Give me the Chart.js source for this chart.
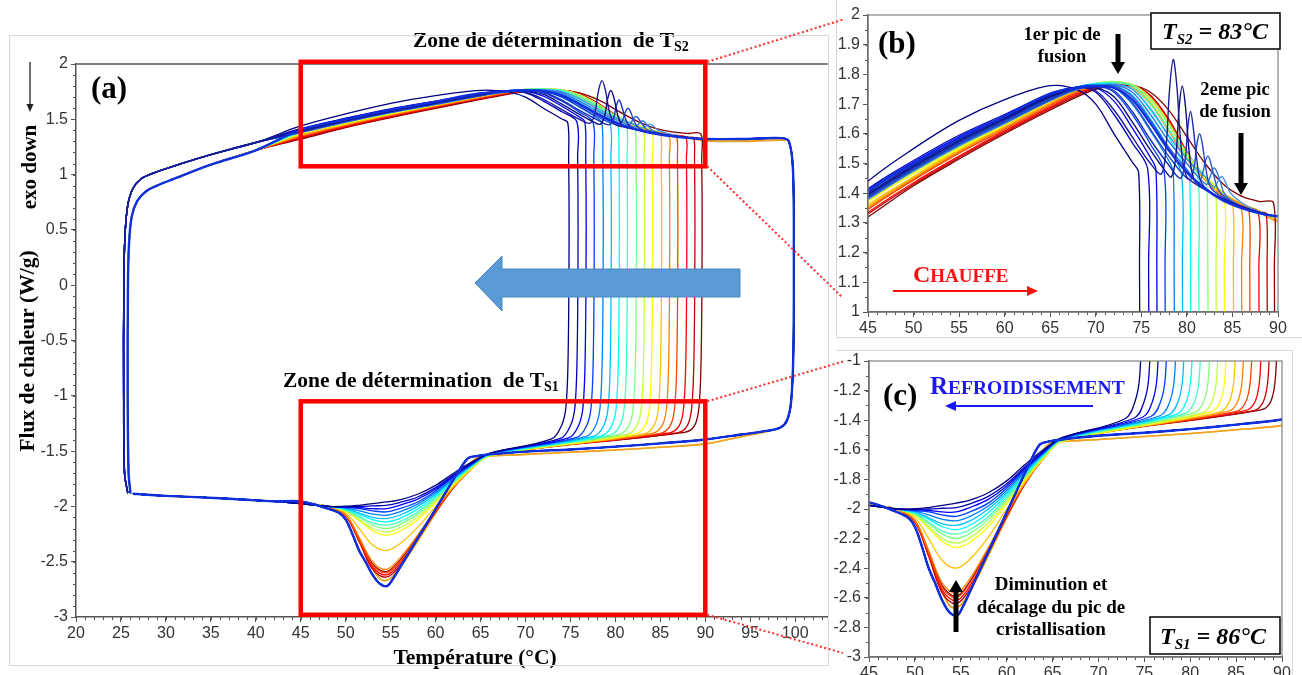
<!DOCTYPE html>
<html>
<head>
<meta charset="utf-8">
<script src="https://cdn.jsdelivr.net/npm/chart.js@4.4.1/dist/chart.umd.min.js"></script>
<style>
  body { margin: 0; background: #fff; width: 1302px; height: 675px; overflow: hidden; position: relative; }
  canvas { position: absolute; }
  #ca { left: 0; top: 0; }
  #cb { left: 830px; top: 0; }
  #cc { left: 830px; top: 345px; }
  #over { left: 0; top: 0; pointer-events: none; }
</style>
</head>
<body>
<canvas id="ca" width="830" height="675"></canvas>
<canvas id="cb" width="472" height="345"></canvas>
<canvas id="cc" width="472" height="330"></canvas>
<canvas id="over" width="1302" height="675"></canvas>
<script>
// ---- data (temperature in °C, heat flow in W/g) ----

// end of every cooling run, common to all loops
var coolTailT = [42, 38, 34, 30, 27.5, 26.4];
var coolTailF = [-1.955, -1.935, -1.918, -1.905, -1.893, -1.885];

// start of heating (vertical rise at ~25 °C), upper and lower bundle
var riseT_hi = [25.75, 25.4, 25.3, 25.32, 25.45, 25.75, 26.3, 27.2, 28.5, 31, 35, 40];
var riseF_hi = [-1.875, -1.7, -1.0, 0.0, 0.45, 0.72, 0.87, 0.96, 1.01, 1.08, 1.18, 1.29];
var riseT_lo = [26.05, 25.85, 25.75, 25.78, 25.9, 26.2, 26.8, 27.8, 29, 31, 35, 40];
var riseF_lo = [-1.875, -1.7, -1.0, 0.0, 0.38, 0.62, 0.76, 0.85, 0.9, 0.965, 1.09, 1.22];

// partial cycles : heating stopped at stopTemp then cooled
var stopTemp = [74.7, 75.7, 76.6, 77.5, 78.5, 79.4, 80.3, 81.2, 82.2, 83.1, 84.0, 85.0, 85.9, 86.8, 87.8, 88.7, 89.5];
var stopFlux = [1.47, 1.48, 1.48, 1.475, 1.47, 1.465, 1.46, 1.455, 1.45, 1.42, 1.395, 1.37, 1.357, 1.345, 1.337, 1.332, 1.368];
var coolStart = [-1.39, -1.385, -1.38, -1.375, -1.37, -1.365, -1.36, -1.355, -1.35, -1.35, -1.345, -1.345, -1.34, -1.34, -1.335, -1.335, -1.33];
var riseGroup = [1, 1, 1, 1, 1, 1, 0, 0, 0, 0, 0, 0, 0, 0, 0, 0, 0];

var heatGrid = [45, 50, 55, 60, 65, 68, 70, 72, 74, 76, 78, 80, 82, 84, 86, 88];
var partialHeat = [
  [1.44, 1.55, 1.645, 1.715, 1.762, 1.748, 1.70, 1.60, 1.505],
  [1.415, 1.51, 1.595, 1.665, 1.735, 1.757, 1.74, 1.665, 1.57],
  [1.41, 1.505, 1.59, 1.66, 1.73, 1.757, 1.755, 1.71, 1.62, 1.52],
  [1.405, 1.50, 1.585, 1.655, 1.728, 1.758, 1.762, 1.74, 1.665, 1.565],
  [1.40, 1.495, 1.58, 1.65, 1.725, 1.758, 1.765, 1.755, 1.70, 1.61, 1.51],
  [1.395, 1.49, 1.575, 1.648, 1.722, 1.758, 1.767, 1.762, 1.73, 1.65, 1.55],
  [1.39, 1.485, 1.57, 1.645, 1.72, 1.757, 1.768, 1.768, 1.75, 1.68, 1.59, 1.475],
  [1.385, 1.48, 1.565, 1.64, 1.717, 1.756, 1.77, 1.772, 1.76, 1.70, 1.615, 1.52],
  [1.38, 1.475, 1.56, 1.637, 1.715, 1.755, 1.77, 1.775, 1.765, 1.715, 1.63, 1.535, 1.458],
  [1.375, 1.47, 1.555, 1.633, 1.712, 1.755, 1.77, 1.776, 1.765, 1.72, 1.635, 1.535, 1.455],
  [1.37, 1.465, 1.55, 1.63, 1.71, 1.752, 1.77, 1.776, 1.765, 1.72, 1.635, 1.53, 1.45],
  [1.36, 1.455, 1.545, 1.625, 1.705, 1.75, 1.768, 1.775, 1.765, 1.72, 1.635, 1.525, 1.445, 1.395],
  [1.35, 1.45, 1.54, 1.62, 1.70, 1.745, 1.765, 1.772, 1.765, 1.72, 1.64, 1.53, 1.445, 1.39],
  [1.345, 1.445, 1.535, 1.615, 1.695, 1.74, 1.76, 1.77, 1.765, 1.722, 1.64, 1.53, 1.445, 1.39, 1.358],
  [1.335, 1.435, 1.525, 1.61, 1.69, 1.735, 1.758, 1.768, 1.765, 1.725, 1.645, 1.535, 1.445, 1.39, 1.355],
  [1.33, 1.43, 1.52, 1.605, 1.685, 1.73, 1.755, 1.765, 1.765, 1.73, 1.65, 1.54, 1.45, 1.39, 1.355, 1.335],
  [1.32, 1.425, 1.515, 1.60, 1.68, 1.725, 1.75, 1.76, 1.762, 1.74, 1.68, 1.59, 1.50, 1.43, 1.39, 1.372]
];

// shape of the drop when heating is stopped (offsets from stopTemp)
var dropDT = [0.1, 0.15, 0.05, -0.2, -0.7];
var dropF = [1.15, 0.5, -0.6, -1.1, -1.27];

// crystallisation peak of the partial cycles
var dipGrid = [66, 64, 62, 60, 58, 56, 54.5, 53, 51.5, 50, 48, 45];
var partialDip = [
  [-1.52, -1.60, -1.70, -1.81, -1.89, -1.94, -1.96, -1.975, -1.99, -2.0, -2.0, -1.975],
  [-1.52, -1.61, -1.715, -1.83, -1.915, -1.965, -1.99, -1.995, -2.0, -2.0, -2.0, -1.975],
  [-1.52, -1.615, -1.725, -1.845, -1.935, -1.99, -2.02, -2.02, -2.01, -2.005, -2.0, -1.975],
  [-1.525, -1.62, -1.735, -1.86, -1.96, -2.02, -2.05, -2.04, -2.02, -2.01, -2.0, -1.975],
  [-1.525, -1.625, -1.745, -1.875, -1.98, -2.05, -2.08, -2.07, -2.04, -2.015, -2.0, -1.975],
  [-1.53, -1.63, -1.755, -1.89, -2.0, -2.08, -2.11, -2.10, -2.06, -2.02, -2.0, -1.975],
  [-1.53, -1.635, -1.765, -1.905, -2.025, -2.11, -2.14, -2.12, -2.07, -2.025, -2.0, -1.975],
  [-1.535, -1.64, -1.775, -1.92, -2.05, -2.14, -2.17, -2.15, -2.09, -2.03, -2.0, -1.975],
  [-1.54, -1.645, -1.785, -1.935, -2.07, -2.165, -2.20, -2.17, -2.10, -2.035, -2.0, -1.975],
  [-1.54, -1.65, -1.795, -1.95, -2.095, -2.195, -2.23, -2.20, -2.12, -2.04, -2.0, -1.975],
  [-1.545, -1.655, -1.805, -1.965, -2.12, -2.225, -2.26, -2.22, -2.13, -2.045, -2.0, -1.975],
  [-1.545, -1.66, -1.82, -2.0, -2.19, -2.34, -2.40, -2.35, -2.20, -2.06, -2.0, -1.975],
  [-1.54, -1.66, -1.82, -2.03, -2.26, -2.47, -2.57, -2.50, -2.28, -2.08, -2.0, -1.975],
  [-1.54, -1.66, -1.825, -2.04, -2.28, -2.50, -2.60, -2.53, -2.30, -2.08, -2.0, -1.975],
  [-1.535, -1.66, -1.83, -2.045, -2.29, -2.52, -2.62, -2.55, -2.31, -2.085, -2.0, -1.975],
  [-1.535, -1.655, -1.83, -2.05, -2.30, -2.54, -2.64, -2.57, -2.32, -2.09, -2.0, -1.975],
  [-1.53, -1.655, -1.825, -2.04, -2.27, -2.49, -2.59, -2.52, -2.29, -2.08, -2.0, -1.975]
];

// full cycles up to 100 °C (the dark blue ones carry the 2nd melting peak)
var fullColor = ['#1030dd', '#1c1c96', '#0c0c80', '#1a2cb4', '#2244c8', '#2a5cda', '#347ae2', '#4898ea', '#f0a028', '#f8c818'];
var fullGroup = [0, 1, 1, 1, 1, 1, 1, 1, 0, 0];
var fullHeatT = [
  [45, 50, 55, 60, 65, 68, 70, 72, 74, 76, 78, 80, 82, 84, 86, 88, 90, 94, 98.5],
  [45, 50, 55, 60, 65, 68, 70, 72, 74, 76, 77.2, 77.7, 78.1, 78.5, 78.9, 79.3, 79.9, 81, 83, 85, 88, 90, 94, 98.5],
  [45, 50, 55, 60, 65, 68, 70, 72, 74, 76, 77.5, 78.3, 78.8, 79.15, 79.5, 79.85, 80.25, 80.8, 82, 84, 86, 88, 90, 94, 98.5],
  [45, 50, 55, 60, 65, 68, 70, 72, 74, 76, 78, 79.3, 79.8, 80.1, 80.4, 80.7, 81.1, 81.6, 83, 85, 88, 90, 94, 98.5],
  [45, 50, 55, 60, 65, 68, 70, 72, 74, 76, 78, 80.3, 80.8, 81.1, 81.4, 81.7, 82.1, 82.6, 84, 86, 88, 90, 94, 98.5],
  [45, 50, 55, 60, 65, 68, 70, 72, 74, 76, 78, 80, 81.3, 81.75, 82.05, 82.3, 82.55, 82.95, 83.5, 85, 88, 90, 94, 98.5],
  [45, 50, 55, 60, 65, 68, 70, 72, 74, 76, 78, 80, 82.1, 82.55, 82.8, 83.0, 83.25, 83.65, 84.2, 86, 88, 90, 94, 98.5],
  [45, 50, 55, 60, 65, 68, 70, 72, 74, 76, 78, 80, 82, 83.0, 83.4, 83.8, 84.2, 84.8, 87, 90, 94, 98.5],
  [45, 50, 55, 60, 65, 68, 70, 72, 74, 76, 78, 80, 82, 84, 86, 88, 90, 94, 98.5],
  [45, 50, 55, 60, 65, 68, 70, 72, 74, 76, 78, 80, 82, 84, 86, 88, 90, 94, 98.5]
];
var fullHeatF = [
  [1.405, 1.50, 1.585, 1.66, 1.735, 1.755, 1.76, 1.755, 1.715, 1.635, 1.545, 1.47, 1.415, 1.375, 1.35, 1.332, 1.322, 1.322, 1.33],
  [1.40, 1.495, 1.58, 1.655, 1.73, 1.755, 1.745, 1.68, 1.59, 1.50, 1.465, 1.55, 1.75, 1.85, 1.76, 1.58, 1.46, 1.43, 1.395, 1.365, 1.335, 1.322, 1.32, 1.33],
  [1.395, 1.49, 1.575, 1.65, 1.725, 1.755, 1.755, 1.725, 1.64, 1.545, 1.48, 1.455, 1.53, 1.69, 1.76, 1.69, 1.54, 1.445, 1.415, 1.38, 1.355, 1.335, 1.322, 1.32, 1.33],
  [1.39, 1.485, 1.57, 1.645, 1.72, 1.755, 1.76, 1.745, 1.675, 1.58, 1.495, 1.45, 1.51, 1.62, 1.675, 1.62, 1.51, 1.435, 1.395, 1.365, 1.335, 1.322, 1.32, 1.33],
  [1.385, 1.48, 1.565, 1.64, 1.715, 1.752, 1.76, 1.755, 1.705, 1.615, 1.525, 1.445, 1.49, 1.565, 1.60, 1.565, 1.48, 1.42, 1.385, 1.355, 1.335, 1.322, 1.32, 1.33],
  [1.385, 1.48, 1.565, 1.64, 1.715, 1.752, 1.762, 1.76, 1.725, 1.645, 1.555, 1.48, 1.435, 1.47, 1.51, 1.525, 1.51, 1.46, 1.41, 1.37, 1.335, 1.322, 1.32, 1.33],
  [1.38, 1.475, 1.56, 1.635, 1.712, 1.75, 1.762, 1.765, 1.74, 1.665, 1.575, 1.50, 1.43, 1.455, 1.478, 1.485, 1.475, 1.44, 1.395, 1.355, 1.335, 1.322, 1.32, 1.33],
  [1.38, 1.475, 1.56, 1.635, 1.712, 1.75, 1.762, 1.767, 1.75, 1.685, 1.595, 1.515, 1.455, 1.42, 1.44, 1.456, 1.44, 1.40, 1.35, 1.322, 1.32, 1.33],
  [1.345, 1.445, 1.54, 1.625, 1.70, 1.74, 1.755, 1.765, 1.755, 1.70, 1.61, 1.515, 1.445, 1.395, 1.36, 1.335, 1.305, 1.30, 1.31],
  [1.355, 1.455, 1.55, 1.63, 1.705, 1.745, 1.76, 1.77, 1.76, 1.705, 1.615, 1.52, 1.45, 1.40, 1.365, 1.34, 1.31, 1.305, 1.315]
];
var fullDropT = [99.3, 99.75, 99.85, 99.8, 99.55, 99.1, 98.4];
var fullDropF = [1.30, 1.05, 0.3, -0.6, -1.05, -1.22, -1.285];
var blueCoolT = [97, 94, 90, 85, 80, 75, 70, 66, 64.5, 63.6, 62.5, 61, 59.5, 58, 56.5, 55.3, 54.6, 53.8, 53, 52.2, 51.5, 50.7, 50, 49.3, 48, 45];
var blueCoolF = [-1.315, -1.35, -1.395, -1.43, -1.46, -1.485, -1.505, -1.53, -1.545, -1.565, -1.69, -1.89, -2.09, -2.29, -2.49, -2.65, -2.72, -2.70, -2.62, -2.50, -2.40, -2.24, -2.12, -2.06, -2.02, -1.955];
var orangeCoolT = [97, 94, 90, 85, 80, 75, 70, 66, 64.6, 63.2, 61.5, 60, 58.5, 57, 55.8, 54.8, 53.9, 53, 52.2, 51.4, 50.6, 49.8, 48, 45];
var orangeCoolF = [-1.32, -1.37, -1.435, -1.465, -1.49, -1.51, -1.53, -1.545, -1.56, -1.68, -1.88, -2.06, -2.25, -2.44, -2.58, -2.66, -2.66, -2.56, -2.42, -2.28, -2.15, -2.07, -2.015, -1.965];

// ---- build datasets ----
function xy(ts, fs) { return ts.map(function (t, i) { return { x: t, y: fs[i] }; }); }
function rise(hi) { return hi ? xy(riseT_hi, riseF_hi) : xy(riseT_lo, riseF_lo); }
function jet(t) {
  function c(v) { return Math.round(255 * Math.max(0, Math.min(1, v))); }
  return 'rgb(' + c(Math.min(4 * t - 1.5, -4 * t + 4.5)) + ',' + c(Math.min(4 * t - 0.5, -4 * t + 3.5)) + ',' + c(Math.min(4 * t + 0.5, -4 * t + 2.5)) + ')';
}
function partialLoop(k) {
  var d = rise(riseGroup[k]);
  partialHeat[k].forEach(function (f, i) { d.push({ x: heatGrid[i], y: f }); });
  d.push({ x: stopTemp[k], y: stopFlux[k] });
  dropDT.forEach(function (dt, i) { d.push({ x: stopTemp[k] + dt, y: dropF[i] }); });
  d.push({ x: stopTemp[k] - 1.8, y: coolStart[k] });
  d = d.concat(xy(dipGrid, partialDip[k]), xy(coolTailT, coolTailF));
  return d;
}
function fullLoop(j) {
  var orange = j >= 8;
  return rise(fullGroup[j]).concat(
    xy(fullHeatT[j], fullHeatF[j]),
    xy(fullDropT, fullDropF),
    orange ? xy(orangeCoolT, orangeCoolF) : xy(blueCoolT, blueCoolF),
    xy(coolTailT, coolTailF));
}
function makeDatasets() {
  var ds = [];
  for (var j = 0; j < 8; j++) ds.push({ data: fullLoop(j), borderColor: fullColor[j], borderWidth: j == 0 ? 2.4 : 1.4 });
  for (var k = 0; k < stopTemp.length; k++) ds.push({ data: partialLoop(k), borderColor: jet(k / (stopTemp.length - 1)), borderWidth: 1.3 });
  for (var j2 = 8; j2 < 10; j2++) ds.push({ data: fullLoop(j2), borderColor: fullColor[j2], borderWidth: 1.6 });
  ds.forEach(function (d) { d.showLine = true; d.pointRadius = 0; d.fill = false; });
  return ds;
}

// ---- helpers ----
var SERIF = '"Liberation Serif", "Times New Roman", serif';
var SANS = '"Liberation Sans", Arial, sans-serif';
function fmt(v) { return String(Math.round(v * 100) / 100); }

function arrow(ctx, x1, y1, x2, y2, lw, hl, hw, color) {
  var a = Math.atan2(y2 - y1, x2 - x1);
  var bx = x2 - hl * Math.cos(a), by = y2 - hl * Math.sin(a);
  ctx.save();
  ctx.strokeStyle = color; ctx.fillStyle = color; ctx.lineWidth = lw; ctx.setLineDash([]);
  ctx.beginPath(); ctx.moveTo(x1, y1); ctx.lineTo(bx, by); ctx.stroke();
  ctx.beginPath();
  ctx.moveTo(x2, y2);
  ctx.lineTo(bx + hw / 2 * Math.sin(a), by - hw / 2 * Math.cos(a));
  ctx.lineTo(bx - hw / 2 * Math.sin(a), by + hw / 2 * Math.cos(a));
  ctx.closePath(); ctx.fill();
  ctx.restore();
}
// draw a run of text pieces [{s, font, dy}] starting at x (or centred on x)
function runs(ctx, parts, x, y, color, center) {
  ctx.save();
  ctx.fillStyle = color; ctx.textAlign = 'left'; ctx.textBaseline = 'alphabetic';
  var w = 0;
  parts.forEach(function (p) { ctx.font = p.font; w += ctx.measureText(p.s).width; });
  var cx = center ? x - w / 2 : x;
  parts.forEach(function (p) { ctx.font = p.font; ctx.fillText(p.s, cx, y + (p.dy || 0)); cx += ctx.measureText(p.s).width; });
  ctx.restore();
}
function ctext(ctx, s, x, y, font, color) {
  ctx.save(); ctx.font = font; ctx.fillStyle = color || '#000'; ctx.textAlign = 'center'; ctx.fillText(s, x, y); ctx.restore();
}

var minorTicks = {
  id: 'minorTicks',
  afterDraw: function (chart, args, o) {
    var ctx = chart.ctx, a = chart.chartArea, sx = chart.scales.x, sy = chart.scales.y;
    ctx.save(); ctx.strokeStyle = '#555'; ctx.lineWidth = 1;
    var n0 = Math.ceil(sx.min / o.x - 1e-6), n1 = Math.floor(sx.max / o.x + 1e-6);
    for (var n = n0; n <= n1; n++) {
      var px = Math.round(sx.getPixelForValue(n * o.x)) + 0.5;
      ctx.beginPath(); ctx.moveTo(px, a.bottom); ctx.lineTo(px, a.bottom + 3); ctx.stroke();
    }
    n0 = Math.ceil(sy.min / o.y - 1e-6); n1 = Math.floor(sy.max / o.y + 1e-6);
    for (var m = n0; m <= n1; m++) {
      var py = Math.round(sy.getPixelForValue(m * o.y)) + 0.5;
      ctx.beginPath(); ctx.moveTo(a.left - 3, py); ctx.lineTo(a.left, py); ctx.stroke();
    }
    if (o.box) {
      ctx.strokeStyle = '#808080'; ctx.lineWidth = 1.2;
      ctx.strokeRect(a.left, a.top, a.right - a.left, a.bottom - a.top);
    } else {
      ctx.strokeStyle = '#555'; ctx.lineWidth = 1.5;
      ctx.beginPath(); ctx.moveTo(a.left, a.top); ctx.lineTo(a.right, a.top); ctx.stroke();
    }
    ctx.restore();
  }
};

var annotA = {
  id: 'annotA',
  afterDraw: function (chart) {
    var ctx = chart.ctx, sx = chart.scales.x, sy = chart.scales.y;
    ctx.save();
    // zones
    ctx.strokeStyle = '#ff0000'; ctx.lineWidth = 4.5;
    var x0 = sx.getPixelForValue(45), x1 = sx.getPixelForValue(90);
    var t0 = sy.getPixelForValue(2.02), t1 = sy.getPixelForValue(1.075);
    var b0 = sy.getPixelForValue(-1.05), b1 = sy.getPixelForValue(-2.98);
    ctx.strokeRect(x0, t0, x1 - x0, t1 - t0);
    ctx.strokeRect(x0, b0, x1 - x0, b1 - b0);
    // big blue arrow (cooling direction)
    ctx.beginPath();
    ctx.moveTo(475, 283); ctx.lineTo(502, 256); ctx.lineTo(502, 269); ctx.lineTo(740, 269);
    ctx.lineTo(740, 297); ctx.lineTo(502, 297); ctx.lineTo(502, 311); ctx.closePath();
    ctx.fillStyle = '#5b9bd5'; ctx.fill();
    ctx.strokeStyle = '#4c86bd'; ctx.lineWidth = 1; ctx.stroke();
    ctx.restore();
    // texts
    runs(ctx, [{ s: '(a)', font: 'bold 31px ' + SERIF }], 91, 98, '#000');
    runs(ctx, [{ s: 'Zone de détermination  de T', font: 'bold 21.5px ' + SERIF }, { s: 'S2', font: 'bold 14px ' + SERIF, dy: 4 }], 413, 47, '#000');
    runs(ctx, [{ s: 'Zone de détermination  de T', font: 'bold 21.5px ' + SERIF }, { s: 'S1', font: 'bold 14px ' + SERIF, dy: 4 }], 283, 387, '#000');
    ctext(ctx, 'Température (°C)', 475, 664, 'bold 21.5px ' + SERIF);
    ctx.save();
    ctx.translate(27, 351); ctx.rotate(-Math.PI / 2);
    ctext(ctx, 'Flux de chaleur (W/g)', 0, 7, 'bold 21.5px ' + SERIF);
    ctx.restore();
    ctx.save();
    ctx.translate(29, 167); ctx.rotate(-Math.PI / 2);
    ctext(ctx, 'exo down', 0, 7, 'bold 21px ' + SERIF);
    ctx.restore();
    arrow(ctx, 30, 62, 30, 112, 1.3, 8, 7, '#222');
  }
};

var annotB = {
  id: 'annotB',
  afterDraw: function (chart) {
    var ctx = chart.ctx;
    ctx.save(); ctx.translate(-830, 0);
    runs(ctx, [{ s: '(b)', font: 'bold 31px ' + SERIF }], 878, 53, '#000');
    ctext(ctx, '1er pic de', 1062, 40, 'bold 18.5px ' + SERIF);
    ctext(ctx, 'fusion', 1062, 62, 'bold 18.5px ' + SERIF);
    arrow(ctx, 1118, 34, 1118, 74, 5, 12, 14, '#000');
    ctext(ctx, '2eme pic', 1235, 95, 'bold 18.5px ' + SERIF);
    ctext(ctx, 'de fusion', 1235, 117, 'bold 18.5px ' + SERIF);
    arrow(ctx, 1241, 133, 1241, 195, 5, 12, 14, '#000');
    ctx.fillStyle = '#fff'; ctx.fillRect(1151, 13, 129, 36);
    ctx.strokeStyle = '#000'; ctx.lineWidth = 1.5; ctx.strokeRect(1151, 13, 129, 36);
    runs(ctx, [{ s: 'T', font: 'italic bold 24px ' + SERIF }, { s: 'S2', font: 'italic bold 15px ' + SERIF, dy: 5 },
               { s: ' = 83°C', font: 'italic bold 24px ' + SERIF }], 1215, 39, '#000', true);
    runs(ctx, [{ s: 'C', font: 'bold 24px ' + SERIF }, { s: 'HAUFFE', font: 'bold 19px ' + SERIF }], 913, 282, '#ff1010');
    arrow(ctx, 893, 291, 1038, 291, 2, 11, 10, '#ff1010');
    ctx.restore();
  }
};

var annotC = {
  id: 'annotC',
  afterDraw: function (chart) {
    var ctx = chart.ctx;
    ctx.save(); ctx.translate(-830, -345);
    runs(ctx, [{ s: '(c)', font: 'bold 31px ' + SERIF }], 883, 405, '#000');
    runs(ctx, [{ s: 'R', font: 'bold 25px ' + SERIF }, { s: 'EFROIDISSEMENT', font: 'bold 19.5px ' + SERIF }], 930, 394, '#1a1aee');
    arrow(ctx, 1093, 406, 945, 406, 2, 11, 10, '#1a1aee');
    ctext(ctx, 'Diminution et', 1051, 590, 'bold 19px ' + SERIF);
    ctext(ctx, 'décalage du pic de', 1051, 613, 'bold 19px ' + SERIF);
    ctext(ctx, 'cristallisation', 1051, 635, 'bold 19px ' + SERIF);
    arrow(ctx, 956, 632, 956, 580, 5, 12, 14, '#000');
    ctx.fillStyle = '#fff'; ctx.fillRect(1150, 617, 130, 37);
    ctx.strokeStyle = '#000'; ctx.lineWidth = 1.5; ctx.strokeRect(1150, 617, 130, 37);
    runs(ctx, [{ s: 'T', font: 'italic bold 24px ' + SERIF }, { s: 'S1', font: 'italic bold 15px ' + SERIF, dy: 5 },
               { s: ' = 86°C', font: 'italic bold 24px ' + SERIF }], 1213, 644, '#000', true);
    ctx.restore();
  }
};

function axes(xmin, xmax, xstep, ymin, ymax, ystep, yw, xh, fsize) {
  var tickFont = { family: SANS, size: fsize };
  return {
    x: {
      type: 'linear', min: xmin, max: xmax,
      afterFit: function (s) { s.height = xh; },
      ticks: { stepSize: xstep, includeBounds: false, autoSkip: false, maxRotation: 0, color: '#333', font: tickFont, padding: 2, callback: fmt },
      grid: { drawOnChartArea: false, drawTicks: true, tickLength: 5, color: '#555' },
      border: { display: true, color: '#555', width: 1.5 }
    },
    y: {
      type: 'linear', min: ymin, max: ymax,
      afterFit: function (s) { s.width = yw; },
      ticks: { stepSize: ystep, includeBounds: false, autoSkip: false, color: '#333', font: tickFont, padding: 3, callback: fmt },
      grid: { drawOnChartArea: false, drawTicks: true, tickLength: 5, color: '#555' },
      border: { display: true, color: '#555', width: 1.5 }
    }
  };
}

function makeChart(id, scales, padding, minor, extra) {
  return new Chart(document.getElementById(id), {
    type: 'scatter',
    data: { datasets: makeDatasets() },
    options: {
      responsive: false, animation: false, events: [],
      layout: { padding: padding },
      elements: { point: { radius: 0 }, line: { tension: 0.35, capBezierPoints: false, borderJoinStyle: 'round', borderCapStyle: 'round' } },
      plugins: { legend: { display: false }, tooltip: { enabled: false }, minorTicks: minor },
      scales: scales
    },
    plugins: [minorTicks, extra]
  });
}

var chartA = makeChart('ca', axes(20, 103.65, 5, -3, 2, 0.5, 76, 58, 16), { left: 0, top: 64, right: 2, bottom: 0 }, { x: 1, y: 0.1, box: false }, annotA);
var chartB = makeChart('cb', axes(45, 90, 5, 1, 2, 0.1, 38, 33, 16), { left: 0, top: 15, right: 24, bottom: 0 }, { x: 1, y: 0.05, box: true }, annotB);
var chartC = makeChart('cc', axes(45, 90, 5, -3, -1, 0.2, 39, 18, 16), { left: 0, top: 16, right: 20, bottom: 0 }, { x: 1, y: 0.1, box: true }, annotC);

// ---- overlay: panel frames and dotted zoom connectors ----
(function () {
  var ctx = document.getElementById('over').getContext('2d');
  ctx.strokeStyle = '#d8d8d8'; ctx.lineWidth = 1;
  ctx.strokeRect(9.5, 35.5, 819, 630);
  ctx.beginPath();
  ctx.moveTo(836.5, 0); ctx.lineTo(836.5, 337.5); ctx.lineTo(1302, 337.5);
  ctx.moveTo(836, 350.5); ctx.lineTo(1292.5, 350.5); ctx.lineTo(1292.5, 675);
  ctx.stroke();
  var sx = chartA.scales.x, sy = chartA.scales.y;
  var rx = sx.getPixelForValue(90) + 2;
  ctx.strokeStyle = '#ff2a2a'; ctx.lineWidth = 2; ctx.setLineDash([2, 2.5]);
  [[sy.getPixelForValue(2.02), 845, 19], [sy.getPixelForValue(1.075), 842, 297],
   [sy.getPixelForValue(-1.05), 845, 361], [sy.getPixelForValue(-2.98), 843, 653]].forEach(function (l) {
    ctx.beginPath(); ctx.moveTo(rx, l[0]); ctx.lineTo(l[1], l[2]); ctx.stroke();
  });
})();
</script>
</body>
</html>
